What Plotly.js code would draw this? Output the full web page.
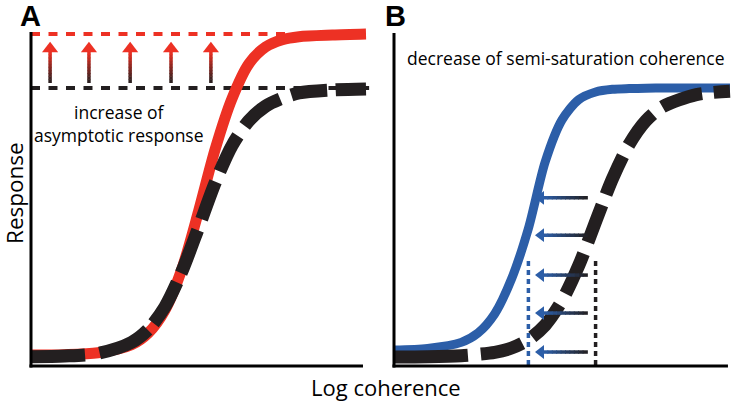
<!DOCTYPE html>
<html>
<head>
<meta charset="utf-8">
<script src="https://cdn.plot.ly/plotly-3.0.1.min.js"></script>
<style>
  html, body { margin: 0; padding: 0; background: #fff; }
  #chart { width: 733px; height: 402px; }
</style>
</head>
<body>
<div id="chart"></div>
<script>
// Panel A : augmentation de la réponse asymptotique
const logCohA = [0, 1, 2, 3, 3.5, 4, 4.5, 5, 5.5, 6, 6.5, 7, 7.5, 8, 9, 10];
const redA = [0.30, 0.31, 0.37, 0.61, 0.96, 1.65, 2.87, 4.61, 6.49, 8.00, 9.04, 9.55, 9.77, 9.86, 9.91, 9.94];
const blackA = [0.25, 0.27, 0.35, 0.68, 1.07, 1.75, 2.80, 4.12, 5.48, 6.59, 7.33, 7.77, 8.01, 8.17, 8.26, 8.29];
const asymRedA = 9.94, asymBlackA = 8.32;
const asymRedEndA = 7.73;
const arrowXA = [0.57, 1.73, 2.96, 4.18, 5.37];
const arrowBaseA = 8.47, arrowTopA = 9.40, arrowHeadA = 9.50;

// Panel B : diminution de la cohérence de semi-saturation
const logCohB = [0, 1, 2, 2.5, 3, 3.5, 4, 4.5, 5, 5.5, 6, 6.5, 7, 7.5, 8, 9, 10];
const blueB = [0.45, 0.50, 0.68, 0.96, 1.54, 2.59, 4.10, 6.10, 7.36, 7.97, 8.20, 8.28, 8.30, 8.31, 8.32, 8.32, 8.32];
const blackB = [0.24, 0.25, 0.28, 0.32, 0.38, 0.51, 0.76, 1.20, 1.93, 2.99, 4.30, 5.59, 6.63, 7.34, 7.76, 8.12, 8.22];
const c50Blue = 4, c50Black = 6, c50MarkTop = 3.21;
const arrowYB = [5.02, 3.90, 2.70, 1.56, 0.39];
const arrowTailB = 5.77, arrowTipB = 4.46, arrowHeadB = 4.375;

const RED = "#ed3124", BLUE = "#2c5ea8", BLACK = "#231f20";

function hex(c) {
  return [1, 3, 5].map((i) => parseInt(c.slice(i, i + 2), 16));
}
function mix(a, b, t) {
  const A = hex(a), B = hex(b);
  return "rgb(" + A.map((v, i) => Math.round(v + (B[i] - v) * t)).join(",") + ")";
}

// flèches en dégradé : chaque tige est coupée en petits segments
function gradientShafts(segs, c0, c1, xa, ya) {
  const n = 10, traces = [];
  for (let k = 0; k < n; k++) {
    const xs = [], ys = [];
    segs.forEach(([x0, y0, x1, y1]) => {
      const a = k / n, b = Math.min(1, (k + 1.2) / n);
      xs.push(x0 + (x1 - x0) * a, x0 + (x1 - x0) * b, null);
      ys.push(y0 + (y1 - y0) * a, y0 + (y1 - y0) * b, null);
    });
    traces.push({
      x: xs, y: ys, xaxis: xa, yaxis: ya, mode: "lines",
      line: { color: mix(c0, c1, (k + 0.5) / n), width: 3.5 },
      hoverinfo: "skip",
    });
  }
  return traces;
}

var data = [
  // A
  { x: [0, asymRedEndA], y: [asymRedA, asymRedA], mode: "lines",
    line: { color: RED, width: 4, dash: "9px,8.5px" } },
  { x: [0, 10.1], y: [asymBlackA, asymBlackA], mode: "lines",
    line: { color: BLACK, width: 4, dash: "9px,8.5px" } },
  ...gradientShafts(arrowXA.map((x) => [x, arrowBaseA, x, arrowTopA]), BLACK, RED, "x", "y"),
  { x: arrowXA, y: arrowXA.map(() => arrowHeadA), mode: "markers",
    marker: { symbol: "triangle-up", size: 14, color: RED, line: { width: 0 } } },
  { x: logCohA, y: redA, mode: "lines",
    line: { color: RED, width: 11, shape: "spline", smoothing: 0.8 } },
  { x: logCohA, y: blackA, mode: "lines",
    line: { color: BLACK, width: 13, shape: "spline", smoothing: 0.8,
      dash: "54px,15px,54px,9px,47px,10px,46px,12px,40px,11px,40px,12px,45px,12px,36px,9px,60px,10px" } },
  // B
  { x: logCohB, y: blueB, xaxis: "x2", yaxis: "y2", mode: "lines",
    line: { color: BLUE, width: 9, shape: "spline", smoothing: 0.8 } },
  { x: logCohB, y: blackB, xaxis: "x2", yaxis: "y2", mode: "lines",
    line: { color: BLACK, width: 13, shape: "spline", smoothing: 0.8,
      dash: "74px,13px,43px,12px,42px,13px,44px,12px,40px,11px,42px,12px,40px,12px,42px,12px,45px,12px,45px,12px" } },
  { x: [c50Blue, c50Blue], y: [0, c50MarkTop], xaxis: "x2", yaxis: "y2", mode: "lines",
    line: { color: BLUE, width: 3.5, dash: "5px,4px" } },
  { x: [c50Black, c50Black], y: [0, c50MarkTop], xaxis: "x2", yaxis: "y2", mode: "lines",
    line: { color: BLACK, width: 3.5, dash: "5px,4px" } },
  ...gradientShafts(arrowYB.map((y) => [arrowTailB, y, arrowTipB, y]), BLACK, BLUE, "x2", "y2"),
  { x: arrowYB.map(() => arrowHeadB), y: arrowYB, xaxis: "x2", yaxis: "y2", mode: "markers",
    marker: { symbol: "triangle-left", size: 12, color: BLUE, line: { width: 0 } } },
];

const hidden = { visible: false, fixedrange: true };
const W = 733, H = 402;
const px = (x) => x / W, py = (y) => 1 - y / H;
const txt = { family: "Open Sans", color: "#000" };
const note = { xref: "paper", yref: "paper", xanchor: "center", yanchor: "middle", showarrow: false, borderpad: 0 };

var layout = {
  width: W,
  height: H,
  margin: { l: 0, r: 0, t: 0, b: 0 },
  showlegend: false,
  paper_bgcolor: "#fff",
  plot_bgcolor: "rgba(0,0,0,0)",
  xaxis: { ...hidden, domain: [0.02858, 0.50389], range: [-0.3, 10.1] },
  yaxis: { ...hidden, domain: [0.06716, 0.9411], range: [-0.3, 10.25] },
  xaxis2: { ...hidden, domain: [0.52377, 1], range: [-0.3, 10.09], anchor: "y2" },
  yaxis2: { ...hidden, domain: [0.06716, 0.9411], range: [-0.3, 10.25], anchor: "x2" },
  shapes: [
    // axes dessinés à la main
    { type: "line", xref: "x", yref: "y", x0: 0, x1: 0, y0: -0.075, y1: 10, line: { color: "#000", width: 3 } },
    { type: "line", xref: "x", yref: "y", x0: -0.045, x1: 9.91, y0: -0.03, y1: -0.03, line: { color: "#000", width: 3 } },
    { type: "line", xref: "x2", yref: "y2", x0: 0, x1: 0, y0: -0.075, y1: 9.97, line: { color: "#000", width: 3 } },
    { type: "line", xref: "x2", yref: "y2", x0: -0.045, x1: 9.94, y0: -0.03, y1: -0.03, line: { color: "#000", width: 3 } },
  ],
  annotations: [
    { ...note, text: "<b>A</b>", x: px(30), y: py(16),
      font: { family: "Liberation Sans", size: 29, color: "#000" } },
    { ...note, text: "<b>B</b>", x: px(395), y: py(16),
      font: { family: "Liberation Sans", size: 29, color: "#000" } },
    { ...note, text: "increase of<br>asymptotic response", x: px(119), y: py(123),
      font: { ...txt, size: 17.5 } },
    { ...note, text: "decrease of semi-saturation coherence", x: px(565), y: py(58),
      font: { ...txt, size: 17.5 } },
    { ...note, text: "Response", x: px(14), y: py(193), textangle: -90,
      font: { ...txt, size: 22.5 } },
    { ...note, text: "Log coherence", x: px(386), y: py(386.5),
      font: { ...txt, size: 22 } },
  ],
};

var config = { displayModeBar: false, staticPlot: true };

Plotly.newPlot(document.getElementById("chart"), data, layout, config);
</script>
</body>
</html>
